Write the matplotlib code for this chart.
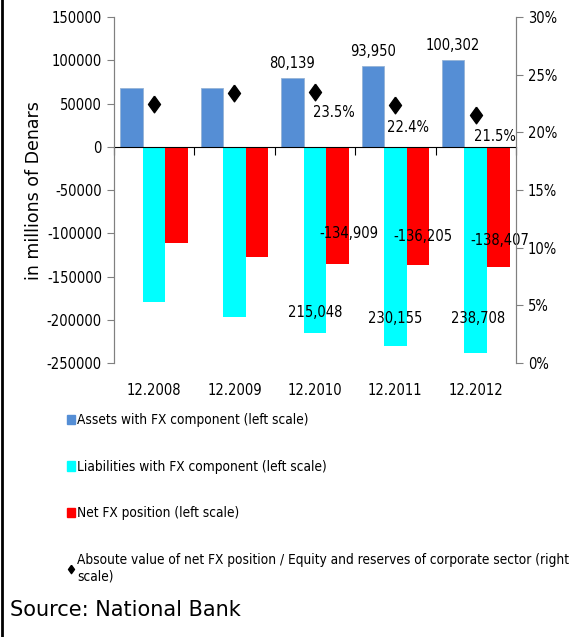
import numpy as np
import matplotlib
matplotlib.use("Agg")
from matplotlib import pyplot as plt
from matplotlib.lines import Line2D
from matplotlib.patches import Patch

plt.rcParams['font.family'] = ['DejaVu Sans']
plt.rcParams['font.stretch'] = 'condensed'

periods = ["12.2008", "12.2009", "12.2010", "12.2011", "12.2012"]
assets = [68000, 68000, 80139, 93950, 100302]
liabilities = [-179000, -196500, -215048, -230155, -238708]
net_fx = [-111600, -127800, -134909, -136205, -138407]
ratio = [22.5, 23.4, 23.5, 22.4, 21.5]

asset_labels = ["", "", "80,139", "93,950", "100,302"]
liab_labels = ["", "", "215,048", "230,155", "238,708"]
net_labels = ["", "", "-134,909", "-136,205", "-138,407"]
ratio_labels = ["", "", "23.5%", "22.4%", "21.5%"]

# label nudges in points (x, y), hand placed like the original
net_off = [(0, 0), (0, 0), (8, 22), (4, 20), (1, 19)]
liab_off = [(0, 0), (0, 0), (0, 15), (0, 20), (2, 25)]
ratio_off = [(0, 0), (0, 0), (14, -15), (9, -16), (14, -15)]

diamond = [(0, 1), (0.72, 0), (0, -1), (-0.72, 0), (0, 1)]

fig = plt.figure(figsize=(5.85, 6.37), dpi=100)
ax = fig.add_axes([0.1944, 0.430, 0.6876, 0.543])
ax2 = ax.twinx()

x = np.arange(len(periods))
w = 0.28
ax.bar(x - w, assets, w, color="#558ED5", edgecolor="#95B3D7", linewidth=0.6)
ax.bar(x, liabilities, w, color="#00FFFF")
ax.bar(x + w, net_fx, w, color="#FF0000")

ax.set_xlim(-0.5, 4.5)
ax.set_ylim(-250000, 150000)
ax.set_yticks(np.arange(-250000, 150001, 50000))
ax.set_yticklabels([str(v) for v in range(-250000, 150001, 50000)], fontsize=10.5)
ax.set_ylabel("in millions of Denars", fontsize=12.5, labelpad=3, fontstretch='normal')

ax2.plot(x, ratio, linestyle="none", marker=diamond, color="black", markersize=12)
ax2.set_ylim(0, 30)
ax2.set_yticks(range(0, 31, 5))
ax2.set_yticklabels([f"{v}%" for v in range(0, 31, 5)], fontsize=10.5)

for a in (ax, ax2):
    a.spines['top'].set_visible(False)
    a.spines['left'].set_color("#808080")
    a.spines['right'].set_color("#808080")
    a.tick_params(axis='y', direction='out', length=5, color="#808080")
ax2.spines['bottom'].set_visible(False)

# category axis runs along zero, ticks between the groups
ax.spines['bottom'].set_position(('data', 0))
ax.spines['bottom'].set_color("black")
ax.set_xticks(np.arange(-0.5, 4.6, 1.0))
ax.set_xticklabels([])
ax.tick_params(axis='x', direction='out', length=6, color="black")
for i, p in enumerate(periods):
    ax.text(i, -0.058, p, transform=ax.get_xaxis_transform(), ha='center', va='top', fontsize=10.5)

for i in range(len(periods)):
    if asset_labels[i]:
        ax.annotate(asset_labels[i], (i - w, assets[i]), xytext=(0, 5), textcoords='offset points',
                    ha='center', va='bottom', fontsize=10.5)
    if net_labels[i]:
        ax.annotate(net_labels[i], (i + w, net_fx[i]), xytext=net_off[i], textcoords='offset points',
                    ha='center', va='center', fontsize=10.5)
    if liab_labels[i]:
        ax.annotate(liab_labels[i], (i, liabilities[i]), xytext=liab_off[i], textcoords='offset points',
                    ha='center', va='center', fontsize=10.5)
    if ratio_labels[i]:
        ax2.annotate(ratio_labels[i], (i, ratio[i]), xytext=ratio_off[i], textcoords='offset points',
                     ha='center', va='center', fontsize=10.5)

handles = [
    Patch(color="#558ED5", label="Assets with FX component (left scale)"),
    Patch(color="#00FFFF", label="Liabilities with FX component (left scale)"),
    Patch(color="#FF0000", label="Net FX position (left scale)"),
    Line2D([], [], linestyle="none", marker=diamond, color="black", markersize=6,
           label="Absoute value of net FX position / Equity and reserves of corporate sector (right\nscale)"),
]
fig.legend(handles=handles, loc='upper left', bbox_to_anchor=(0.105, 0.360), frameon=False,
           fontsize=9.8, handlelength=0.6, handletextpad=0.15, labelspacing=2.4, borderaxespad=0)

fig.text(0.017, 0.042, "Source: National Bank", fontsize=15, va='center', fontstretch='normal')
fig.add_artist(Line2D([0.004, 0.004], [0, 1], transform=fig.transFigure, color="black", linewidth=2))

fig.savefig("out.png", dpi=100)
